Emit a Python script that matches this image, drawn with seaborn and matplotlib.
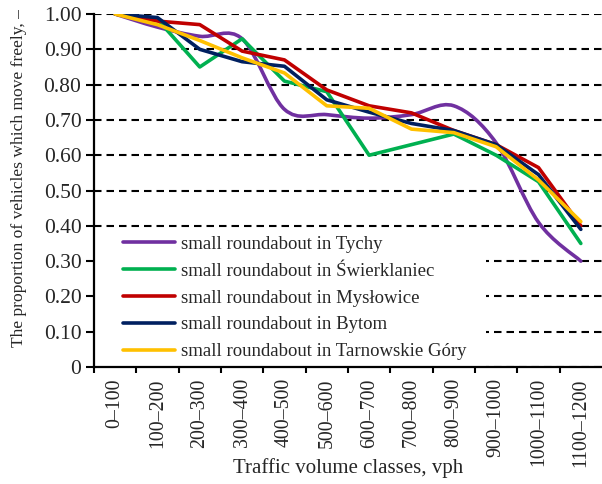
import numpy as np
import pandas as pd
import matplotlib
matplotlib.use("Agg")
import matplotlib.pyplot as plt
import seaborn as sns
from matplotlib.lines import Line2D
from matplotlib.path import Path
from matplotlib.patches import PathPatch, Rectangle

# Categories on the x axis (traffic volume classes)
classes = ["0–100", "100–200", "200–300", "300–400", "400–500", "500–600",
           "600–700", "700–800", "800–900", "900–1000", "1000–1100", "1100–1200"]

# Proportion of vehicles which move freely
tychy = [1.00, 0.963, 0.937, 0.93, 0.73, 0.715, 0.705, 0.715, 0.74, 0.635, 0.41, 0.30]
swierklaniec = [1.00, 0.985, 0.85, 0.93, 0.81, 0.78, 0.60, 0.63, 0.66, 0.60, 0.525, 0.35]
myslowice = [1.00, 0.98, 0.97, 0.895, 0.87, 0.785, 0.74, 0.72, 0.67, 0.63, 0.565, 0.40]
bytom = [1.00, 0.99, 0.90, 0.865, 0.852, 0.757, 0.722, 0.69, 0.67, 0.63, 0.545, 0.39]
tarnowskie = [1.00, 0.97, 0.925, 0.876, 0.833, 0.74, 0.733, 0.674, 0.664, 0.624, 0.53, 0.412]

names = ["small roundabout in Tychy", "small roundabout in Świerklaniec",
         "small roundabout in Mysłowice", "small roundabout in Bytom",
         "small roundabout in Tarnowskie Góry"]
colors = ["#7030A0", "#00B050", "#C00000", "#002060", "#FFC000"]

series = [tychy, swierklaniec, myslowice, bytom, tarnowskie]
df = pd.concat([pd.DataFrame({"x": range(len(classes)), "y": s, "site": n})
                for s, n in zip(series, names)], ignore_index=True)

sns.set_style("white")
plt.rcParams['font.family'] = ['Liberation Serif', 'DejaVu Serif']

fig = plt.figure(figsize=(6.02, 4.84), dpi=100)
ax = fig.add_axes([0.156, 0.2417, 0.844, 0.7293])

lw = 2.6
sns.lineplot(data=df, x="x", y="y", hue="site", hue_order=names,
             palette=dict(zip(names, colors)), sort=False, legend=False,
             linewidth=lw, ax=ax, zorder=3)

# Tychy is drawn as a smoothed line (Excel style), so swap its straight
# line for a bezier path through the same points
ax.lines[0].set_visible(False)
xs = np.arange(len(tychy), dtype=float)
ys = np.array(tychy)
verts = [(xs[0], ys[0])]
codes = [Path.MOVETO]
n = len(xs)
for i in range(n - 1):
    p0 = np.array([xs[max(i - 1, 0)], ys[max(i - 1, 0)]])
    p1 = np.array([xs[i], ys[i]])
    p2 = np.array([xs[i + 1], ys[i + 1]])
    p3 = np.array([xs[min(i + 2, n - 1)], ys[min(i + 2, n - 1)]])
    c1 = p1 + (p2 - p0) / 6
    c2 = p2 - (p3 - p1) / 6
    verts += [tuple(c1), tuple(c2), tuple(p2)]
    codes += [Path.CURVE4] * 3
ax.add_patch(PathPatch(Path(verts, codes), facecolor="none", edgecolor=colors[0],
                       linewidth=lw, zorder=2.9, capstyle="round", joinstyle="round"))

ax.set_xlim(-0.5, len(classes) - 0.5)
ax.set_ylim(0, 1.0)

yt = np.round(np.arange(0, 1.01, 0.1), 2)
ax.set_yticks(yt)
ax.set_yticklabels(["0"] + [f"{v:.2f}" for v in yt[1:]])
ax.set_xticks(range(len(classes)))
ax.set_xticklabels(classes, rotation=90, va="top")
ax.set_xticks(np.arange(-0.5, len(classes) - 0.5, 1.0), minor=True)

ax.tick_params(axis="y", which="major", direction="out", length=6, width=1.5,
               color="black", labelsize=15.5, pad=3, left=True)
ax.tick_params(axis="x", which="major", length=0, labelsize=14.3, pad=8)
ax.tick_params(axis="x", which="minor", direction="out", length=4.5, width=1.5,
               color="black", bottom=True)

for side in ["top", "right"]:
    ax.spines[side].set_visible(False)
for side in ["left", "bottom"]:
    ax.spines[side].set_color("black")
    ax.spines[side].set_linewidth(1.6)
    ax.spines[side].set_zorder(4)

ax.yaxis.grid(True, color="black", linewidth=1.5, linestyle=(0, (3.6, 2.4)))
ax.xaxis.grid(False)
ax.set_axisbelow(True)

ax.set_xlabel("Traffic volume classes, vph", fontsize=15)
ax.xaxis.set_label_coords(0.5, -0.258)
ax.set_ylabel("The proportion of vehicles which move freely, –", fontsize=12.6)
ax.yaxis.set_label_coords(-0.132, 0.535)

# white block behind the legend, hiding the lower gridlines on the left
ax.add_patch(Rectangle((0, 0), 0.772, 0.392, transform=ax.transAxes,
                       facecolor="white", edgecolor="none", zorder=1.5))

handles = [Line2D([], [], color=c, linewidth=lw) for c in colors]
leg = ax.legend(handles, names, loc="upper left", bbox_to_anchor=(0.057, 0.372),
                frameon=False, fontsize=13.5, handlelength=2.8, handletextpad=0.3,
                labelspacing=0.52, borderpad=0.0, borderaxespad=0.0)
leg.set_zorder(5)

fig.savefig("out.png", dpi=100)
